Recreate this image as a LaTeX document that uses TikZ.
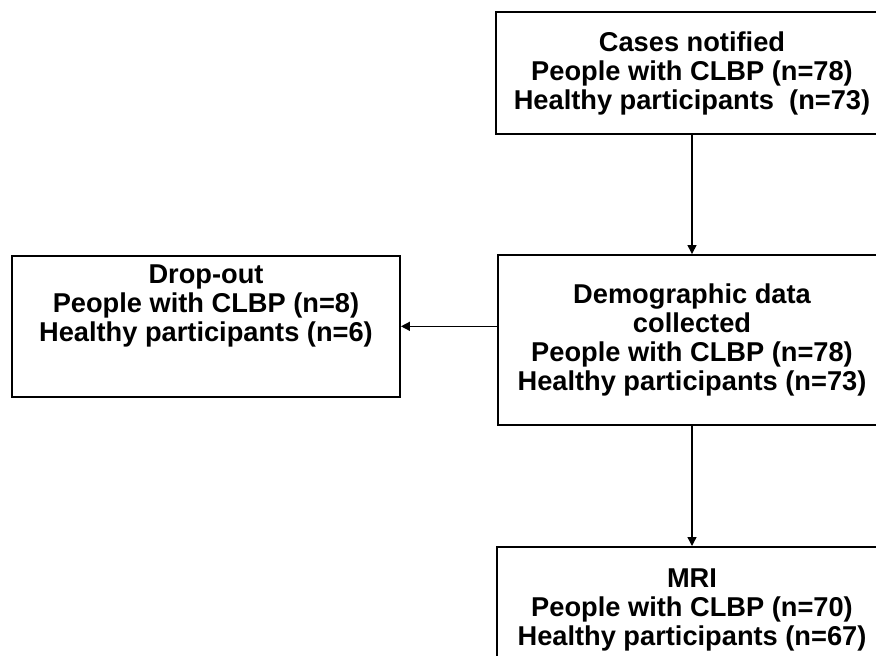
\documentclass[tikz,border=0pt]{standalone}
\usepackage{fontspec}
\setmainfont{Liberation Sans}
\usetikzlibrary{arrows.meta}
\begin{document}
\begin{tikzpicture}[x=0.02cm,y=-0.02cm,
    box/.style={draw,line width=1.1pt,align=center,inner sep=0.18cm,
      font=\bfseries\fontsize{15.5}{16.5}\selectfont}]
      \clip (0,0) rectangle (876,656);
      \draw
        (692,73) node[box,minimum width=7.84cm,minimum height=2.44cm] (0){Cases notified\\People with CLBP (n=78)\\Healthy participants\ \ (n=73)}
        (692,340) node[box,minimum width=7.76cm,minimum height=3.4cm] (1){Demographic data\\collected\\People with CLBP (n=78)\\Healthy participants (n=73)}
        (206,255) node[box,anchor=north,minimum width=7.76cm,text depth=0.92cm] (2){Drop-out\\People with CLBP (n=8)\\Healthy participants (n=6)}
        (692,546) node[box,anchor=north,minimum width=7.8cm,minimum height=2.52cm] (3){MRI\\People with CLBP (n=70)\\Healthy participants (n=67)};
      \begin{scope}[-{Triangle[length=0.18cm,width=0.18cm]},line width=0.8pt]
        \draw (0) to (1);
        \draw (1) to (3);
        \draw (1.west |- 2.east) to (2.east);
      \end{scope}
    \end{tikzpicture}
\end{document}
